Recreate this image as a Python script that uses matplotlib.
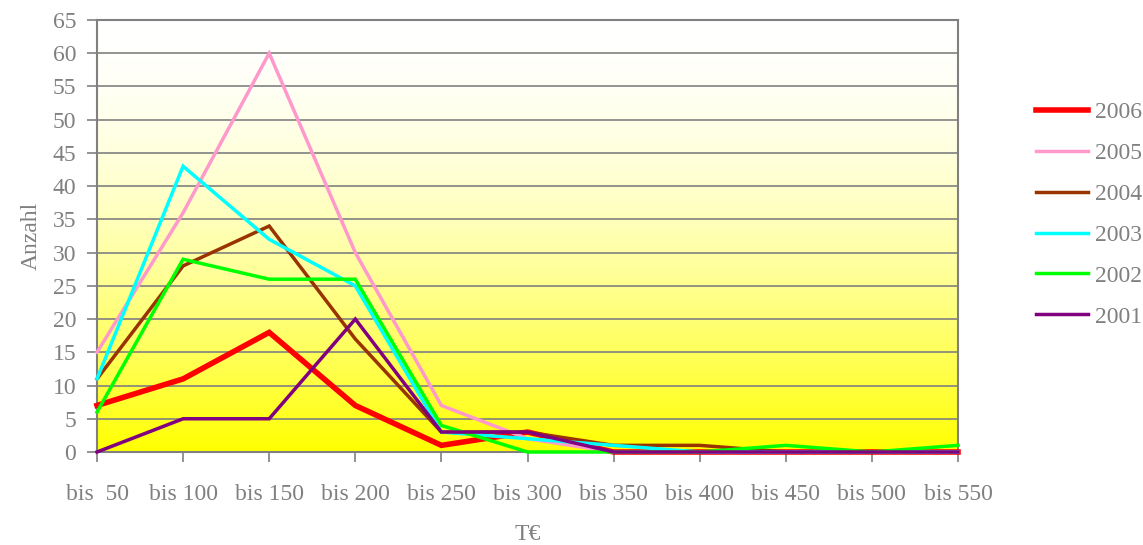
import numpy as np
import matplotlib
matplotlib.use("Agg")
import matplotlib.pyplot as plt

categories = ["bis  50", "bis 100", "bis 150", "bis 200", "bis 250", "bis 300",
              "bis 350", "bis 400", "bis 450", "bis 500", "bis 550"]
y2006 = [7, 11, 18, 7, 1, 3, 0, 0, 0, 0, 0]
y2005 = [15, 36, 60, 30, 7, 2, 0, 0, 0, 0, 0]
y2004 = [11, 28, 34, 17, 3, 3, 1, 1, 0, 0, 0]
y2003 = [11, 43, 32, 25, 3, 2, 1, 0, 0, 0, 0]
y2002 = [6, 29, 26, 26, 4, 0, 0, 0, 1, 0, 1]
y2001 = [0, 5, 5, 20, 3, 3, 0, 0, 0, 0, 0]

series = [
    ("2006", y2006, "#ff0000", 4.0),
    ("2005", y2005, "#ff99cc", 2.5),
    ("2004", y2004, "#993300", 2.5),
    ("2003", y2003, "#00ffff", 2.5),
    ("2002", y2002, "#00ff00", 2.5),
    ("2001", y2001, "#800080", 2.5),
]

plt.rcParams['font.family'] = ['Liberation Serif', 'DejaVu Serif']
grey = "#808080"
fs = 17

fig = plt.figure(figsize=(11.43, 5.45), dpi=100)
ax = fig.add_axes([97 / 1143, 93 / 545, 861 / 1143, 432 / 545])

x = np.arange(len(categories))
xmin, xmax, ymin, ymax = 0, len(categories) - 1, 0, 65

# white at the top, turning yellow mostly in the lower half
t = np.linspace(0, 1, 256) ** 1.7
rgb = np.ones((256, 1, 3))
rgb[:, 0, 2] = 1 - t
ax.imshow(rgb, aspect="auto", extent=[xmin, xmax, ymin, ymax],
          origin="upper", zorder=0)

for y in range(5, 66, 5):
    ax.axhline(y, color=grey, lw=1.2, zorder=1)

for name, vals, color, lw in series:
    ax.plot(x, vals, color=color, lw=lw, label=name, zorder=3,
            solid_joinstyle="miter", clip_on=False)

ax.set_xlim(xmin, xmax)
ax.set_ylim(ymin, ymax)
ax.set_yticks(range(0, 66, 5))
ax.set_xticks(x)
ax.set_xticklabels(categories)
ax.tick_params(colors=grey, labelcolor=grey, labelsize=fs, length=7, width=1.2)
ax.tick_params(axis="x", pad=16)
ax.tick_params(axis="y", pad=8)
for sp in ax.spines.values():
    sp.set_color(grey)
    sp.set_linewidth(1.5)

ax.set_ylabel("Anzahl", color=grey, fontsize=fs, labelpad=8)
ax.set_xlabel("T€", color=grey, fontsize=fs, labelpad=14)

leg = ax.legend(loc="upper left", bbox_to_anchor=(1.08, 0.833), frameon=False,
                fontsize=fs, labelcolor=grey, handlelength=2.2,
                labelspacing=0.82, handletextpad=0.3, borderaxespad=0)

fig.savefig("out.png", dpi=100)
